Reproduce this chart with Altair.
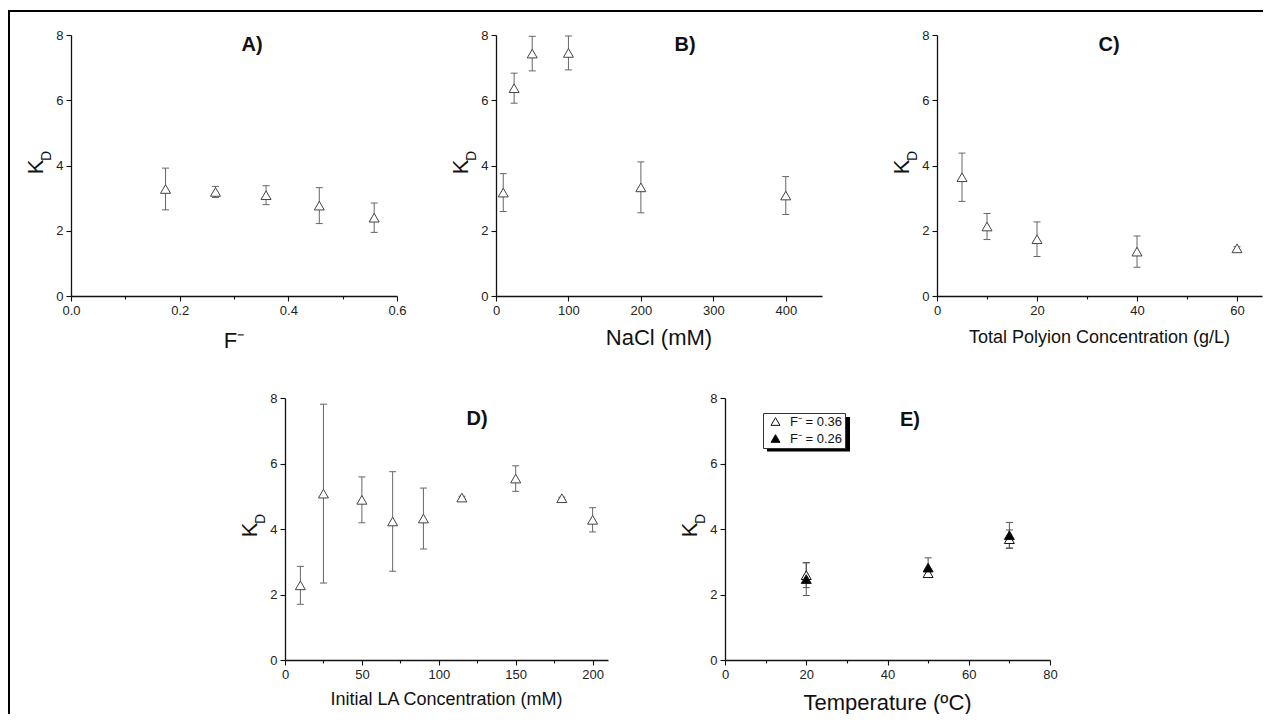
import altair as alt
import pandas as pd

FONT = "Liberation Sans"

# ---- data ----
a_x = [0.174, 0.266, 0.359, 0.457, 0.558]
a_y = [3.28, 3.19, 3.09, 2.77, 2.40]
a_err = [0.64, 0.17, 0.29, 0.55, 0.45]

b_x = [10, 25, 50, 100, 200, 400]
b_y = [3.17, 6.37, 7.43, 7.45, 3.33, 3.08]
b_err = [0.58, 0.46, 0.53, 0.52, 0.78, 0.58]

c_x = [5, 10, 20, 40, 60]
c_y = [3.64, 2.13, 1.74, 1.36, 1.46]
c_err = [0.74, 0.40, 0.53, 0.48, 0.05]

d_x = [10, 25, 50, 70, 90, 115, 150, 180, 200]
d_y = [2.28, 5.08, 4.89, 4.23, 4.32, 4.96, 5.54, 4.94, 4.28]
d_err = [0.58, 2.73, 0.70, 1.52, 0.93, 0.04, 0.39, 0.03, 0.37]

e_x = [20, 50, 70]
e_open_y = [2.59, 2.65, 3.69]
e_open_err = [0.38, 0.12, 0.28]
e_fill_y = [2.47, 2.82, 3.81]
e_fill_err = [0.50, 0.30, 0.39]
e_series = ["F\u207b = 0.36", "F\u207b = 0.26"]

y_ticks = [0, 1, 2, 3, 4, 5, 6, 7, 8]


def major_test(step):
    return f"abs(datum.value/{step} - round(datum.value/{step})) < 1e-6"


def make_axis(values, step, fmt):
    t = major_test(step)
    return alt.Axis(
        values=values, title=None, grid=False, format=fmt,
        domainColor="#111", domainWidth=1.3,
        tickColor="#111", tickWidth=1.1,
        tickSize={"condition": {"test": t, "value": 5}, "value": 3},
        labelExpr=f"{t} ? datum.label : ''",
        labelFont=FONT, labelFontSize=13, labelColor="#222",
        labelPadding=3, labelFlush=False, labelOverlap=False,
    )


def text_layer(txt, x, y, size, bold=False, angle=0, align="center", baseline="alphabetic"):
    return alt.Chart(pd.DataFrame({"t": [txt]})).mark_text(
        font=FONT, fontSize=size, fontWeight="bold" if bold else "normal",
        color="#111", angle=angle, align=align, baseline=baseline,
    ).encode(x=alt.value(x), y=alt.value(y), text="t:N")


def panel(xs, ys, errs, xdom, xvals, xstep, xfmt, width, height,
          letter, letter_xy, xtitle, xtitle_size, xtitle_y, extra=None):
    df = pd.DataFrame({"x": xs, "y": ys, "err": errs})
    df["lo"] = df["y"] - df["err"]
    df["hi"] = df["y"] + df["err"]
    xenc = alt.X("x:Q", scale=alt.Scale(domain=xdom, nice=False, zero=False),
                 axis=make_axis(xvals, xstep, xfmt))
    yenc = alt.Y("lo:Q", scale=alt.Scale(domain=[0, 8], nice=False),
                 axis=make_axis(y_ticks, 2, "d"))
    base = alt.Chart(df)
    bar = base.mark_rule(color="#666", strokeWidth=1).encode(x=xenc, y=yenc, y2="hi:Q")
    cap_lo = base.mark_rule(color="#666", strokeWidth=1, xOffset=-3.5, x2Offset=3.5).encode(
        x="x:Q", x2="x:Q", y="lo:Q")
    cap_hi = base.mark_rule(color="#666", strokeWidth=1, xOffset=-3.5, x2Offset=3.5).encode(
        x="x:Q", x2="x:Q", y="hi:Q")
    pts = base.mark_point(shape="triangle-up", size=100, filled=True, fill="white",
                          stroke="#444", strokeWidth=1, opacity=1).encode(x="x:Q", y="y:Q")
    layers = []
    if extra is not None:
        layers += extra
    layers += [bar, cap_lo, cap_hi, pts,
               text_layer(letter, letter_xy[0], letter_xy[1], 20, bold=True),
               text_layer("K", -35, 132, 22, angle=270, baseline="middle"),
               text_layer("D", -24, 121, 14, angle=270, baseline="middle"),
               text_layer(xtitle, width / 2, xtitle_y, xtitle_size)]
    return alt.layer(*layers).properties(width=width, height=height)


one = pd.DataFrame({"a": [0]})


def frame_bar(x1, x2, y1, y2):
    # solid black strip (no stroke, so its bounds are exact)
    return alt.Chart(one).mark_rect(color="#000", strokeWidth=0).encode(
        x=alt.value(x1), x2=alt.value(x2), y=alt.value(y1), y2=alt.value(y2))


# frame lines (top and left edge of the figure box)
frame_top = frame_bar(-63, 1192, -25, -23)
frame_left_top = frame_bar(-63, -61, -25, 322)

A = panel(a_x, a_y, a_err, [0, 0.6], [0, 0.1, 0.2, 0.3, 0.4, 0.5, 0.6], 0.2, ".1f",
          326, 261, "A)", (181, 15.7), "F\u207b", 22, 313, extra=[frame_top, frame_left_top])
B = panel(b_x, b_y, b_err, [0, 450], list(range(0, 451, 50)), 100, "d",
          326, 261, "B)", (189, 15.7), "NaCl (mM)", 22, 310)
C = panel(c_x, c_y, c_err, [0, 65], list(range(0, 61, 10)), 20, "d",
          325, 261, "C)", (172, 15.7), "Total Polyion Concentration (g/L)", 18, 308)
D = panel(d_x, d_y, d_err, [0, 210], list(range(0, 201, 25)), 50, "d",
          323, 262, "D)", (192, 27), "Initial LA Concentration (mM)", 18, 307)

# ---- panel E with two series and a legend ----
e_df = pd.DataFrame({
    "x": e_x + e_x,
    "y": e_open_y + e_fill_y,
    "err": e_open_err + e_fill_err,
    "series": [e_series[0]] * 3 + [e_series[1]] * 3,
})
e_df["lo"] = e_df["y"] - e_df["err"]
e_df["hi"] = e_df["y"] + e_df["err"]
eb = alt.Chart(e_df)
e_xenc = alt.X("x:Q", scale=alt.Scale(domain=[0, 80], nice=False, zero=False),
               axis=make_axis(list(range(0, 81, 10)), 20, "d"))
e_yenc = alt.Y("lo:Q", scale=alt.Scale(domain=[0, 8], nice=False),
               axis=make_axis(y_ticks, 2, "d"))
e_bar = eb.mark_rule(color="#555", strokeWidth=1).encode(x=e_xenc, y=e_yenc, y2="hi:Q")
e_cap_lo = eb.mark_rule(color="#555", strokeWidth=1, xOffset=-3.5, x2Offset=3.5).encode(
    x="x:Q", x2="x:Q", y="lo:Q")
e_cap_hi = eb.mark_rule(color="#555", strokeWidth=1, xOffset=-3.5, x2Offset=3.5).encode(
    x="x:Q", x2="x:Q", y="hi:Q")
e_pts = eb.mark_point(shape="triangle-up", size=100, filled=True, stroke="#111",
                      strokeWidth=1, opacity=1).encode(
    x="x:Q", y="y:Q",
    fill=alt.Fill("series:N",
                  scale=alt.Scale(domain=e_series, range=["white", "black"]),
                  legend=alt.Legend(orient="none", legendX=38, legendY=15, title=None,
                                    symbolType="triangle-up", symbolSize=80,
                                    symbolStrokeColor="#111", symbolStrokeWidth=1,
                                    labelFont=FONT, labelFontSize=13, labelColor="#111",
                                    padding=2, strokeColor="#333", fillColor="white",
                                    rowPadding=3, labelOffset=8, symbolOffset=4)),
)
shadow = alt.Chart(one).mark_rect(color="black").encode(
    x=alt.value(42), x2=alt.value(125), y=alt.value(19), y2=alt.value(53.5))
E = alt.layer(
    shadow, e_bar, e_cap_lo, e_cap_hi, e_pts,
    text_layer("E)", 185, 27.7, 20, bold=True),
    text_layer("K", -35, 132, 22, angle=270, baseline="middle"),
    text_layer("D", -24, 121, 14, angle=270, baseline="middle"),
    text_layer("Temperature (\u00baC)", 162.5, 312, 22),
).properties(width=325, height=262)


def spacer(w, h, extra=None):
    sp = alt.Chart(one).mark_point(opacity=0).encode(x=alt.value(0), y=alt.value(0))
    if extra:
        return alt.layer(sp, *extra).properties(width=w, height=h)
    return sp.properties(width=w, height=h)


top = alt.hconcat(A, spacer(99, 261), B, spacer(115, 261), C,
                  spacing=0, bounds="flush")
bottom = alt.hconcat(spacer(214, 262, [frame_bar(-63, -61, -41, 316)]), D, spacer(117, 262), E,
                     spacing=0, bounds="flush"
                     ).resolve_scale(fill="independent").resolve_legend(fill="independent")

chart = alt.vconcat(top, bottom, spacing=0).resolve_scale(
    fill="independent").resolve_legend(fill="independent").properties(
    padding={"left": 0, "top": 2, "right": 0, "bottom": 0},
    background="white",
).configure_view(stroke=None)

chart.save("out.html", embed_options={"renderer": "svg", "actions": False})
